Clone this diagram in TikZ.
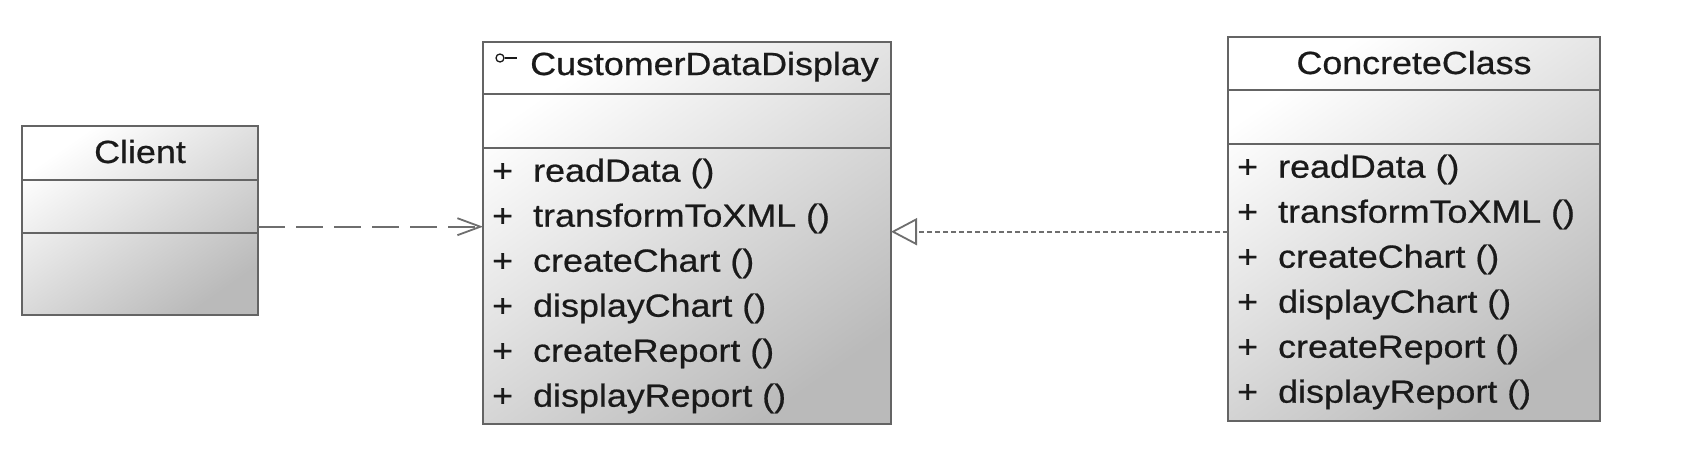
\documentclass[tikz,border=0pt]{standalone}
\usepackage{fontspec}
\setmainfont{Liberation Sans}[FakeStretch=1.12,FakeBold=0.6]
\usetikzlibrary{arrows.meta,calc}
\definecolor{boxc}{HTML}{646464}
\definecolor{linec}{HTML}{6E6E6E}
\definecolor{shadec}{HTML}{BABABA}
\definecolor{txtc}{HTML}{1A1A1A}
\tikzset{
  classbox/.style={draw=boxc, line width=1.8pt, inner sep=0pt, outer sep=0pt,
    anchor=north west, shading=axis, top color=white, bottom color=shadec,
    shading angle=35},
  sepline/.style={draw=boxc, line width=1.8pt},
  txt/.style={font=\fontsize{32}{38}\selectfont, text=txtc, inner sep=0pt, anchor=base west},
  ttl/.style={font=\fontsize{32}{38}\selectfont, text=txtc, inner sep=0pt, anchor=base},
  dep/.style={draw=linec, line width=1.8pt, dash pattern=on 27pt off 11pt,
    -{Straight Barb[length=23pt,width=17pt,line width=1.8pt]}},
  real/.style={draw=linec, line width=1.8pt, dash pattern=on 5pt off 3pt,
    -{Triangle[open,length=26pt,width=27pt,line width=1.8pt,fill=white]}},
}
\newcommand{\mth}[1]{\makebox[41pt][l]{+}#1}
\begin{document}
\begin{tikzpicture}[x=1pt,y=-1pt]
\useasboundingbox (0,0) rectangle (1684,458);

% Client
\node[classbox, minimum width=236pt, minimum height=189pt] (client) at (22,126) {};
\draw[sepline] ($(client.north west)+(0,54)$) -- ($(client.north east)+(0,54)$);
\draw[sepline] ($(client.north west)+(0,107)$) -- ($(client.north east)+(0,107)$);
\node[ttl] (clientname) at ($(client.north)+(0,37)$) {Client};

% CustomerDataDisplay
\node[classbox, minimum width=408pt, minimum height=382pt] (cdd) at (483,42) {};
\draw[sepline] ($(cdd.north west)+(0,52)$) -- ($(cdd.north east)+(0,52)$);
\draw[sepline] ($(cdd.north west)+(0,106)$) -- ($(cdd.north east)+(0,106)$);
\node[circle, draw=txtc, line width=1.3pt, minimum size=8pt, inner sep=0pt] (icon) at ($(cdd.north west)+(17,16)$) {};
\coordinate (iconend) at ($(icon.east)+(12,0)$);
\draw[txtc, line width=1.3pt] (icon.east) -- (iconend);
\node[txt] (cddname) at ($(cdd.north west)+(47,33)$) {CustomerDataDisplay};
\node[txt] (cdd1) at ($(cdd.north west)+(9,139.7)$) {\mth{readData ()}};
\node[txt] (cdd2) at ($(cdd.north west)+(9,184.7)$) {\mth{transformToXML ()}};
\node[txt] (cdd3) at ($(cdd.north west)+(9,229.7)$) {\mth{createChart ()}};
\node[txt] (cdd4) at ($(cdd.north west)+(9,274.7)$) {\mth{displayChart ()}};
\node[txt] (cdd5) at ($(cdd.north west)+(9,319.7)$) {\mth{createReport ()}};
\node[txt] (cdd6) at ($(cdd.north west)+(9,364.7)$) {\mth{displayReport ()}};

% ConcreteClass
\node[classbox, minimum width=372pt, minimum height=384pt] (cc) at (1228,37) {};
\draw[sepline] ($(cc.north west)+(0,53)$) -- ($(cc.north east)+(0,53)$);
\draw[sepline] ($(cc.north west)+(0,107)$) -- ($(cc.north east)+(0,107)$);
\node[ttl] (ccname) at ($(cc.north)+(0,37)$) {ConcreteClass};
\node[txt] (cc1) at ($(cc.north west)+(9,140.7)$) {\mth{readData ()}};
\node[txt] (cc2) at ($(cc.north west)+(9,185.7)$) {\mth{transformToXML ()}};
\node[txt] (cc3) at ($(cc.north west)+(9,230.7)$) {\mth{createChart ()}};
\node[txt] (cc4) at ($(cc.north west)+(9,275.7)$) {\mth{displayChart ()}};
\node[txt] (cc5) at ($(cc.north west)+(9,320.7)$) {\mth{createReport ()}};
\node[txt] (cc6) at ($(cc.north west)+(9,365.7)$) {\mth{displayReport ()}};

% connectors
\draw[dep] ($(client.north east)+(0,100.7)$) -- ($(cdd.north west)+(0,184.7)$);
\draw[real] ($(cc.north west)+(0,194.7)$) -- ($(cdd.north east)+(0,189.7)$);
\end{tikzpicture}
\end{document}
